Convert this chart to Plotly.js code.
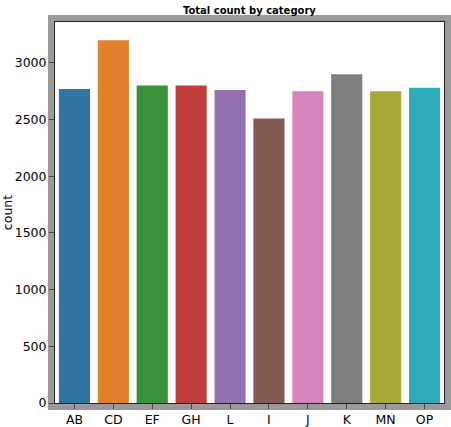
<!DOCTYPE html>
<html>
<head>
<meta charset="utf-8">
<script src="https://cdn.plot.ly/plotly-3.0.1.min.js"></script>
<style>
html,body{margin:0;padding:0;background:#ffffff;}
#chart{width:451px;height:427px;}
</style>
</head>
<body>
<div id="chart"></div>
<script>
const categories = ["AB", "CD", "EF", "GH", "L", "I", "J", "K", "MN", "OP"];
const counts = [2770, 3200, 2800, 2800, 2760, 2510, 2750, 2900, 2750, 2780];
const barColors = ["#3274a1", "#e1812c", "#3a923a", "#c03d3e", "#9372b2",
                   "#845b53", "#d684bd", "#7f7f7f", "#a9aa35", "#2eabb8"];
const yTickValues = [0, 500, 1000, 1500, 2000, 2500, 3000];
const yTickLabels = ["0", "500", "1000", "1500", "2000", "2500", "3000"];

const W = 389, H = 381;
const trace = {
  type: "bar",
  x: categories,
  y: counts,
  width: 0.8,
  marker: {color: barColors, line: {width: 0}},
  hoverinfo: "x+y"
};

const layout = {
  width: 451,
  height: 427,
  margin: {l: 55, r: 7, t: 22, b: 24, pad: 0},
  paper_bgcolor: "#ffffff",
  plot_bgcolor: "#ffffff",
  showlegend: false,
  font: {family: "DejaVu Sans", size: 12, color: "#000000"},
  title: {
    text: "<b>Total count by category</b>",
    font: {family: "DejaVu Sans", size: 10, color: "#000000"},
    x: 0.553, xanchor: "center",
    y: 0.976, yanchor: "middle",
    yref: "container"
  },
  xaxis: {
    type: "category",
    range: [-0.5, 9.5],
    showgrid: false,
    zeroline: false,
    showline: true,
    linecolor: "#222222",
    linewidth: 1,
    mirror: true,
    ticks: "outside",
    ticklen: 5,
    tickwidth: 1,
    tickcolor: "#444444",
    tickfont: {family: "DejaVu Sans", size: 12.5, color: "#000000"},
    fixedrange: true
  },
  yaxis: {
    range: [0, 3360],
    tickvals: yTickValues,
    ticktext: yTickLabels,
    showgrid: false,
    zeroline: false,
    showline: true,
    linecolor: "#222222",
    linewidth: 1,
    mirror: true,
    ticks: "outside",
    ticklen: 5,
    tickwidth: 1,
    tickcolor: "#444444",
    tickfont: {family: "DejaVu Sans", size: 12.5, color: "#000000"},
    title: {text: "count", font: {family: "DejaVu Sans", size: 12.5, color: "#000000"}, standoff: 2},
    fixedrange: true
  },
  shapes: [{
    type: "rect",
    xref: "paper", yref: "paper",
    x0: -4 / W, x1: 1 + 4 / W,
    y0: -4 / H, y1: 1 + 4 / H,
    line: {color: "#9a9a9a", width: 6},
    fillcolor: "rgba(0,0,0,0)",
    layer: "below"
  }]
};

Plotly.newPlot("chart", [trace], layout, {displayModeBar: false, staticPlot: true});
</script>
</body>
</html>
